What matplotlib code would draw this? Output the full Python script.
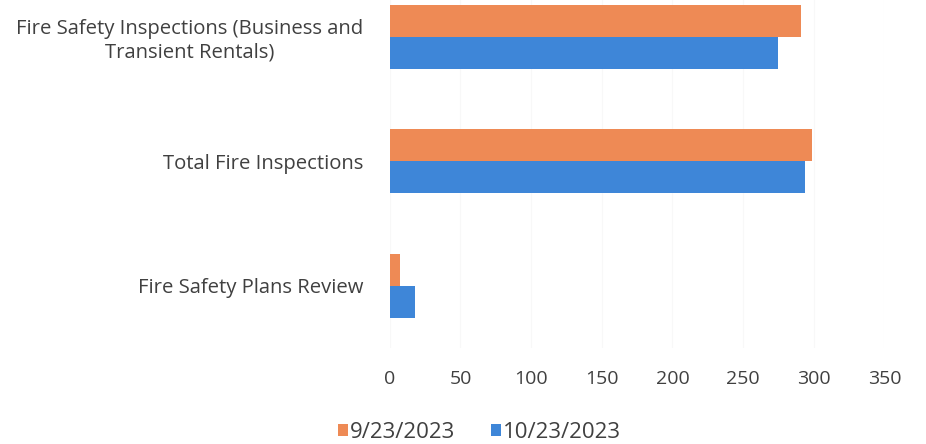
import matplotlib.pyplot as plt
import numpy as np

# categories from bottom to top
categorias = ['Fire Safety Plans Review', 'Total Fire Inspections',
              'Fire Safety Inspections (Business and\nTransient Rentals)']
set_2023 = [7, 299, 291]     # 9/23/2023
out_2023 = [18, 294, 275]    # 10/23/2023
ticks_x = [0, 50, 100, 150, 200, 250, 300, 350]

plt.rcParams['font.family'] = ['Open Sans', 'DejaVu Sans']

fig = plt.figure(figsize=(9.26, 4.44), dpi=100)
ax = fig.add_axes([0.421, 0.216, 0.534, 0.784])

y = np.arange(len(categorias))
h = 0.257
ax.barh(y + h / 2, set_2023, height=h, color='#EE8A55', label='9/23/2023')
ax.barh(y - h / 2, out_2023, height=h, color='#3E86D8', label='10/23/2023')

ax.set_xlim(0, 350)
ax.set_ylim(-0.5, 2.297)
ax.set_xticks(ticks_x)
ax.set_yticks(y)
ax.set_yticklabels(categorias, multialignment='center')
ax.tick_params(axis='x', length=0, labelsize=14, labelcolor='#404040', pad=16)
ax.tick_params(axis='y', length=0, labelsize=14.6, labelcolor='#404040', pad=19)
for s in ax.spines.values():
    s.set_visible(False)
ax.grid(axis='x', color='#f8f8f8', linewidth=0.8)
ax.set_axisbelow(True)

fig.legend(loc='center', bbox_to_anchor=(0.518, 0.027), ncol=2, frameon=False,
           fontsize=16, handlelength=0.45, handleheight=0.45, handletextpad=0.1,
           columnspacing=1.6, labelcolor='#404040')

fig.savefig('out.png', dpi=100)
